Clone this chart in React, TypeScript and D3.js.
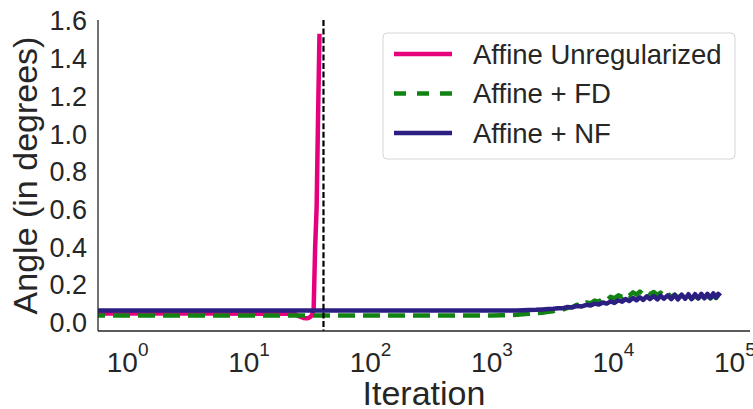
import React, { useEffect, useRef } from 'react';
import * as d3 from 'd3';

// Affine Unregularized: diverges right before the run is stopped
const unregIters = [0, 1, 2, 5, 10, 20, 24, 26, 28, 30, 31, 32, 33, 34, 35, 36, 37, 38];
const unregValues = [0.048, 0.048, 0.048, 0.048, 0.047, 0.046, 0.044, 0.032, 0.024, 0.022, 0.025, 0.030, 0.040, 0.065, 0.40, 0.61, 1.10, 1.53];

// shared logging steps for the two regularized runs
const headIters = [0, 1, 10, 100, 500];
const tailIters = [
  1000, 1200, 1400, 1600, 1800, 2000, 2300, 2600, 2900, 3200, 3500, 3800, 4200, 4600,
  5000, 5500, 6000, 6500, 7000, 7600, 8200, 8800, 9500, 10200, 11000, 11800, 12600, 13500,
  14500, 15500, 16500, 17600, 18800, 20000, 21500, 23000, 24500, 26000, 28000, 30000, 32000, 34000,
  36500, 39000, 41500, 44000, 47000, 50000, 53000, 56000, 59500, 63000, 66500, 70000, 73000, 76000,
];

const fdHead = [0.037, 0.037, 0.037, 0.037, 0.037];
const fdTail = [
  0.037, 0.038, 0.039, 0.041, 0.044, 0.046, 0.050, 0.052, 0.057, 0.060, 0.066, 0.068, 0.078, 0.082,
  0.094, 0.092, 0.106, 0.102, 0.116, 0.110, 0.126, 0.118, 0.136, 0.128, 0.144, 0.136, 0.154, 0.142,
  0.160, 0.148, 0.164, 0.150, 0.164, 0.150, 0.162, 0.146, 0.158, 0.140, 0.154, 0.136, 0.148, 0.132,
  0.144, 0.128, 0.142, 0.126, 0.140, 0.128, 0.142, 0.126, 0.140, 0.128, 0.142, 0.130, 0.144, 0.136,
];

const nfHead = [0.063, 0.063, 0.063, 0.063, 0.063];
const nfTail = [
  0.063, 0.063, 0.064, 0.064, 0.065, 0.066, 0.067, 0.069, 0.071, 0.073, 0.076, 0.075, 0.082, 0.080,
  0.088, 0.085, 0.094, 0.090, 0.100, 0.095, 0.106, 0.100, 0.112, 0.104, 0.118, 0.110, 0.124, 0.114,
  0.130, 0.118, 0.134, 0.120, 0.138, 0.124, 0.140, 0.122, 0.142, 0.126, 0.144, 0.124, 0.146, 0.122,
  0.148, 0.126, 0.150, 0.124, 0.150, 0.128, 0.152, 0.128, 0.152, 0.130, 0.154, 0.132, 0.152, 0.140,
];

const stopIter = 41;

const seriesLabels = ['Affine Unregularized', 'Affine + FD', 'Affine + NF'];
const seriesColors = ['#e6007e', '#128212', '#2b1f82'];
const yTicks = [0, 0.2, 0.4, 0.6, 0.8, 1.0, 1.2, 1.4, 1.6];
const xTickExps = [0, 1, 2, 3, 4, 5];
const yLimits = [-0.045, 1.603];

const App = () => {
  const svgRef = useRef<SVGSVGElement | null>(null);

  useEffect(() => {
    const width = 753;
    const height = 409;
    const left = 98;
    const right = 750;
    const top = 20;
    const bottom = 331;
    const font = '"Liberation Sans", Arial, sans-serif';
    const ink = '#262626';

    const series = [
      { label: seriesLabels[0], color: seriesColors[0], dash: null, pts: unregIters.map((it, i) => [it, unregValues[i]]) },
      { label: seriesLabels[1], color: seriesColors[1], dash: '17,8', pts: headIters.concat(tailIters).map((it, i) => [it, fdHead.concat(fdTail)[i]]) },
      { label: seriesLabels[2], color: seriesColors[2], dash: null, pts: headIters.concat(tailIters).map((it, i) => [it, nfHead.concat(nfTail)[i]]) },
    ];

    // matplotlib-style 5% margins in log space (positive iterations only)
    const allIters = series.flatMap(s => s.pts.map(p => p[0])).filter(v => v > 0);
    const lo = Math.log10(d3.min(allIters) as number);
    const hi = Math.log10(d3.max(allIters) as number);
    const pad = (hi - lo) * 0.05;

    const x = d3.scaleLog().domain([10 ** (lo - pad), 10 ** (hi + pad)]).range([left, right]);
    const y = d3.scaleLinear().domain(yLimits).range([bottom, top]);
    const xPos = (it: number) => (it > 0 ? x(it) : left - 10);

    const svg = d3.select(svgRef.current)
      .attr('width', width)
      .attr('height', height)
      .attr('viewBox', `0 0 ${width} ${height}`);
    svg.selectAll('*').remove();

    svg.append('rect').attr('width', width).attr('height', height).attr('fill', '#fff');

    svg.append('clipPath').attr('id', 'plot-clip')
      .append('rect')
      .attr('x', left).attr('y', top - 5)
      .attr('width', right - left).attr('height', bottom - top + 5);

    const line = d3.line<number[]>()
      .x(d => xPos(d[0]))
      .y(d => y(d[1]));

    const plot = svg.append('g').attr('clip-path', 'url(#plot-clip)');
    series.forEach(s => {
      plot.append('path')
        .datum(s.pts)
        .attr('fill', 'none')
        .attr('stroke', s.color)
        .attr('stroke-width', 4.5)
        .attr('stroke-linejoin', 'round')
        .attr('stroke-dasharray', s.dash)
        .attr('d', line);
    });

    // iteration at which the unregularized run was stopped
    plot.append('line')
      .attr('x1', x(stopIter)).attr('x2', x(stopIter))
      .attr('y1', top).attr('y2', bottom)
      .attr('stroke', '#000')
      .attr('stroke-width', 2.2)
      .attr('stroke-dasharray', '6,2.6');

    // spines
    svg.append('line')
      .attr('x1', left).attr('x2', left).attr('y1', top).attr('y2', bottom)
      .attr('stroke', ink).attr('stroke-width', 1.3);
    svg.append('line')
      .attr('x1', left).attr('x2', right).attr('y1', bottom).attr('y2', bottom)
      .attr('stroke', ink).attr('stroke-width', 1.3);

    // y tick labels
    svg.append('g').selectAll('text')
      .data(yTicks)
      .join('text')
      .attr('x', left - 11)
      .attr('y', d => y(d))
      .attr('dy', '0.36em')
      .attr('text-anchor', 'end')
      .attr('font-family', font)
      .attr('font-size', 27)
      .attr('fill', ink)
      .text(d => d3.format('.1f')(d));

    // x tick labels, 10^k
    const xl = svg.append('g').selectAll('text')
      .data(xTickExps)
      .join('text')
      .attr('x', d => x(10 ** d))
      .attr('y', 372)
      .attr('text-anchor', 'middle')
      .attr('font-family', font)
      .attr('font-size', 28)
      .attr('fill', ink);
    xl.append('tspan').text('10');
    xl.append('tspan').attr('dy', -16).attr('font-size', 19).text(d => String(d));

    svg.append('text')
      .attr('x', (left + right) / 2)
      .attr('y', 405)
      .attr('text-anchor', 'middle')
      .attr('font-family', font)
      .attr('font-size', 34)
      .attr('fill', ink)
      .text('Iteration');

    svg.append('text')
      .attr('transform', `translate(37, ${(top + bottom) / 2}) rotate(-90)`)
      .attr('text-anchor', 'middle')
      .attr('font-family', font)
      .attr('font-size', 34)
      .attr('fill', ink)
      .text('Angle (in degrees)');

    // legend
    const lg = svg.append('g').attr('transform', 'translate(383, 33)');
    lg.append('rect')
      .attr('width', 352).attr('height', 126).attr('rx', 4)
      .attr('fill', '#fff').attr('fill-opacity', 0.8)
      .attr('stroke', '#d6d6d6').attr('stroke-width', 1);
    series.forEach((s, i) => {
      const cy = 21 + i * 39.5;
      lg.append('line')
        .attr('x1', 11).attr('x2', 69).attr('y1', cy).attr('y2', cy)
        .attr('stroke', s.color)
        .attr('stroke-width', 4.5)
        .attr('stroke-dasharray', s.dash ? '12,11' : null);
      lg.append('text')
        .attr('x', 90).attr('y', cy)
        .attr('dy', '0.35em')
        .attr('font-family', font)
        .attr('font-size', 27.5)
        .attr('fill', ink)
        .text(s.label);
    });
  }, []);

  return <svg ref={svgRef} style={{ position: 'absolute', left: 0, top: 0 }}></svg>;
};

export default App;
